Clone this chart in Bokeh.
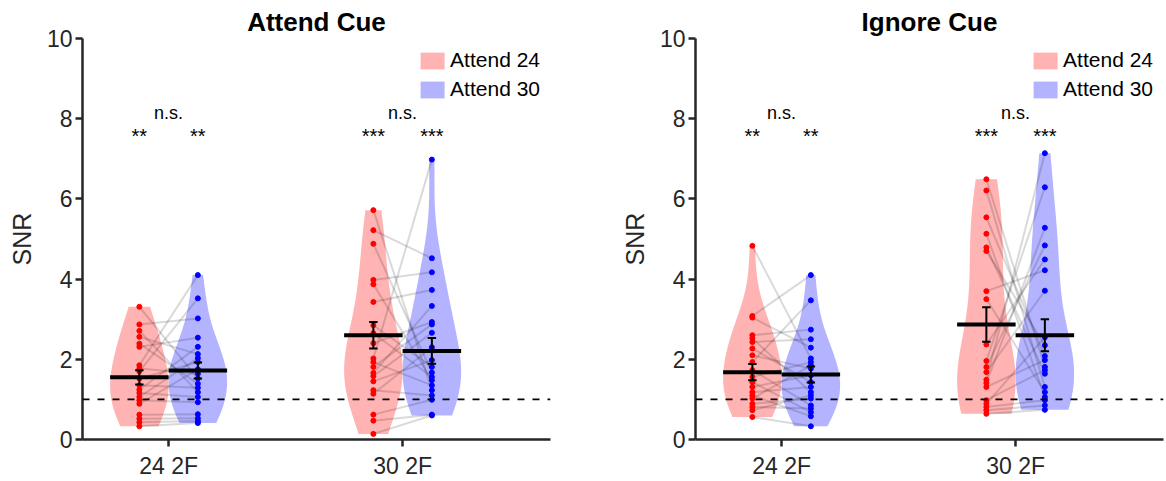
import numpy as np
from bokeh.plotting import figure
from bokeh.layouts import row
from bokeh.models import (Range1d, FixedTicker, Span, Legend, LegendItem)
from bokeh.embed import file_html
from bokeh.resources import INLINE
from bokeh.core.properties import value

FONT = "Liberation Sans"

categories = ["24 2F", "30 2F"]
panel_titles = ["Attend Cue", "Ignore Cue"]
series_names = ["Attend 24", "Attend 30"]

# ---- Attend Cue panel (paired subjects: index i in red <-> index i in blue)
attend_cue_24_red = [3.31, 2.87, 2.71, 2.56, 2.39, 2.31, 1.85, 1.77, 1.70, 1.52,
                     1.35, 1.24, 1.16, 1.06, 0.98, 0.89, 0.62, 0.52, 0.43, 0.33]
attend_cue_24_blue = [1.52, 3.02, 1.18, 2.13, 1.39, 2.54, 4.10, 1.64, 3.52, 1.93,
                      1.29, 2.31, 1.06, 2.03, 0.93, 1.75, 0.63, 0.53, 0.46, 0.41]
attend_cue_30_red = [5.72, 5.22, 4.88, 3.98, 3.87, 3.43, 2.85, 2.65, 2.40, 2.02,
                     1.93, 1.81, 1.66, 1.58, 1.45, 1.23, 1.14, 0.62, 0.47, 0.14]
attend_cue_30_blue = [1.23, 4.52, 1.67, 4.17, 1.48, 3.73, 1.81, 1.56, 2.93, 6.98,
                      1.35, 2.87, 3.33, 2.66, 1.98, 1.10, 2.30, 0.99, 0.62, 0.60]

# ---- Ignore Cue panel
ignore_cue_24_red = [4.83, 3.08, 3.04, 2.60, 2.52, 2.43, 2.27, 2.10, 1.93, 1.73,
                     1.56, 1.43, 1.31, 1.18, 1.10, 1.02, 0.89, 0.81, 0.73, 0.56]
ignore_cue_24_blue = [2.02, 4.10, 2.29, 2.74, 1.18, 2.50, 1.43, 1.77, 3.47, 0.85,
                      1.93, 0.68, 1.60, 1.31, 0.58, 1.85, 1.02, 0.77, 1.10, 0.33]
ignore_cue_30_red = [6.49, 6.21, 5.54, 5.13, 4.79, 4.70, 3.70, 3.50, 2.37, 1.96,
                     1.81, 1.68, 1.49, 1.41, 1.31, 0.98, 0.89, 0.81, 0.73, 0.64]
ignore_cue_30_blue = [1.81, 1.31, 2.08, 1.06, 1.64, 2.35, 4.22, 1.18, 4.49, 6.29,
                      4.84, 3.71, 7.14, 5.28, 1.98, 1.73, 2.55, 0.98, 0.85, 0.74]

# means and standard errors: [24 2F, 30 2F]
attend_cue_mean_red = [1.55, 2.60]
attend_cue_sem_red = [0.18, 0.33]
attend_cue_mean_blue = [1.72, 2.21]
attend_cue_sem_blue = [0.20, 0.32]
ignore_cue_mean_red = [1.68, 2.87]
ignore_cue_sem_red = [0.20, 0.43]
ignore_cue_mean_blue = [1.62, 2.60]
ignore_cue_sem_blue = [0.20, 0.40]

# significance labels
within_labels = [["**", "**"], ["***", "***"]]
between_labels = ["n.s.", "n.s."]

OFFSET = 0.125
HALF_W = 0.125
CAP = 0.018
BW_SCALE = 1.3
RED_FILL = "#FFB3B3"
BLUE_FILL = "#B3B3FF"
AX_COLOR = "#262626"


def violin(vals, center):
    v = np.asarray(vals, dtype=float)
    n = len(v)
    sig = np.median(np.abs(v - np.median(v))) / 0.6745
    bw = BW_SCALE * sig * (4.0 / (3.0 * n)) ** 0.2
    ys = np.linspace(v.min(), v.max(), 200)
    dens = np.exp(-0.5 * ((ys[:, None] - v[None, :]) / bw) ** 2).sum(axis=1)
    dens = dens / dens.max() * HALF_W
    xs = np.concatenate([center - dens, (center + dens)[::-1]])
    yy = np.concatenate([ys, ys[::-1]])
    return xs, yy


def make_panel(title, groups, means_r, sem_r, means_b, sem_b, bl, br):
    p = figure(width=bl + 468 + br, height=481,
               x_range=Range1d(0.632, 2.632), y_range=Range1d(0, 10),
               output_backend="svg", toolbar_location=None,
               min_border_left=bl, min_border_right=br,
               min_border_top=38, min_border_bottom=42)
    p.xgrid.visible = False
    p.ygrid.visible = False
    p.outline_line_color = None
    p.background_fill_color = "white"

    p.title.text = title
    p.title.align = "center"
    p.title.text_font = FONT
    p.title.text_font_size = "26px"
    p.title.text_font_style = "bold"
    p.title.text_color = "black"
    p.title.standoff = 3

    red_r = blue_r = None
    for ci, (reds, blues) in enumerate(groups):
        c = ci + 1
        xr, yr = violin(reds, c - OFFSET)
        xb, yb = violin(blues, c + OFFSET)
        red_r = p.patch(xr, yr, fill_color=RED_FILL, line_alpha=0)
        blue_r = p.patch(xb, yb, fill_color=BLUE_FILL, line_alpha=0)

    for ci, (reds, blues) in enumerate(groups):
        c = ci + 1
        n = len(reds)
        p.segment(x0=[c - OFFSET] * n, y0=reds, x1=[c + OFFSET] * n, y1=blues,
                  line_color="black", line_alpha=0.15, line_width=2)

    for ci, (reds, blues) in enumerate(groups):
        c = ci + 1
        p.scatter([c - OFFSET] * len(reds), reds, size=5, color="#FF0000")
        p.scatter([c + OFFSET] * len(blues), blues, size=5, color="#0000FF")

    span = Span(location=1, dimension="width", line_color="black",
                line_dash="7 8", line_width=1.8)
    p.add_layout(span)

    xs_r = [1 - OFFSET, 2 - OFFSET]
    xs_b = [1 + OFFSET, 2 + OFFSET]
    for xs, m, s in ((xs_r, means_r, sem_r), (xs_b, means_b, sem_b)):
        lo = [a - b for a, b in zip(m, s)]
        hi = [a + b for a, b in zip(m, s)]
        p.segment(x0=xs, y0=lo, x1=xs, y1=hi, line_color="black", line_width=2)
        p.segment(x0=[x - CAP for x in xs], y0=lo, x1=[x + CAP for x in xs], y1=lo,
                  line_color="black", line_width=2)
        p.segment(x0=[x - CAP for x in xs], y0=hi, x1=[x + CAP for x in xs], y1=hi,
                  line_color="black", line_width=2)
        p.segment(x0=[x - HALF_W for x in xs], y0=m, x1=[x + HALF_W for x in xs], y1=m,
                  line_color="black", line_width=4)

    # significance text
    for ci in range(2):
        c = ci + 1
        p.text(x=[c], y=[8.15], text=[between_labels[ci]], text_align="center",
               text_baseline="middle", text_font=value(FONT),
               text_font_size="18px", text_color="black")
        p.text(x=[c - OFFSET, c + OFFSET], y=[7.58, 7.58], text=within_labels[ci],
               text_align="center", text_baseline="middle", text_font=value(FONT),
               text_font_size="20px", text_color="black")

    legend = Legend(items=[LegendItem(label=series_names[0], renderers=[red_r]),
                           LegendItem(label=series_names[1], renderers=[blue_r])],
                    location="top_right")
    legend.label_text_font = FONT
    legend.label_text_font_size = "21px"
    legend.label_text_color = "black"
    legend.glyph_width = 30
    legend.glyph_height = 21
    legend.label_standoff = 3
    legend.label_height = 21
    legend.spacing = 5
    legend.padding = 4
    legend.margin = 6
    legend.border_line_alpha = 0
    legend.background_fill_alpha = 0
    p.add_layout(legend)

    for ax in (p.xaxis, p.yaxis):
        ax.axis_line_width = 2.5
        ax.axis_line_color = AX_COLOR
        ax.major_tick_line_color = AX_COLOR
        ax.major_tick_line_width = 2.5
        ax.major_tick_in = 0
        ax.major_tick_out = 7
        ax.minor_tick_line_color = None
        ax.major_label_text_font = FONT
        ax.major_label_text_font_size = "23px"
        ax.major_label_text_color = AX_COLOR
    p.xaxis.ticker = FixedTicker(ticks=[1, 2])
    p.xaxis.major_label_overrides = {1: categories[0], 2: categories[1]}
    p.xaxis.major_label_standoff = 6
    p.yaxis.ticker = FixedTicker(ticks=[0, 2, 4, 6, 8, 10])
    p.yaxis.major_label_standoff = 3
    p.yaxis.axis_label = "SNR"
    p.yaxis.axis_label_text_font = FONT
    p.yaxis.axis_label_text_font_size = "25px"
    p.yaxis.axis_label_text_font_style = "normal"
    p.yaxis.axis_label_text_color = AX_COLOR
    p.yaxis.axis_label_standoff = 8
    return p


p1 = make_panel(panel_titles[0],
                [(attend_cue_24_red, attend_cue_24_blue), (attend_cue_30_red, attend_cue_30_blue)],
                attend_cue_mean_red, attend_cue_sem_red, attend_cue_mean_blue, attend_cue_sem_blue,
                82, 58)
p2 = make_panel(panel_titles[1],
                [(ignore_cue_24_red, ignore_cue_24_blue), (ignore_cue_30_red, ignore_cue_30_blue)],
                ignore_cue_mean_red, ignore_cue_sem_red, ignore_cue_mean_blue, ignore_cue_sem_blue,
                87, 3)

layout = row(p1, p2)
open("out.html", "w").write(file_html(layout, INLINE))
